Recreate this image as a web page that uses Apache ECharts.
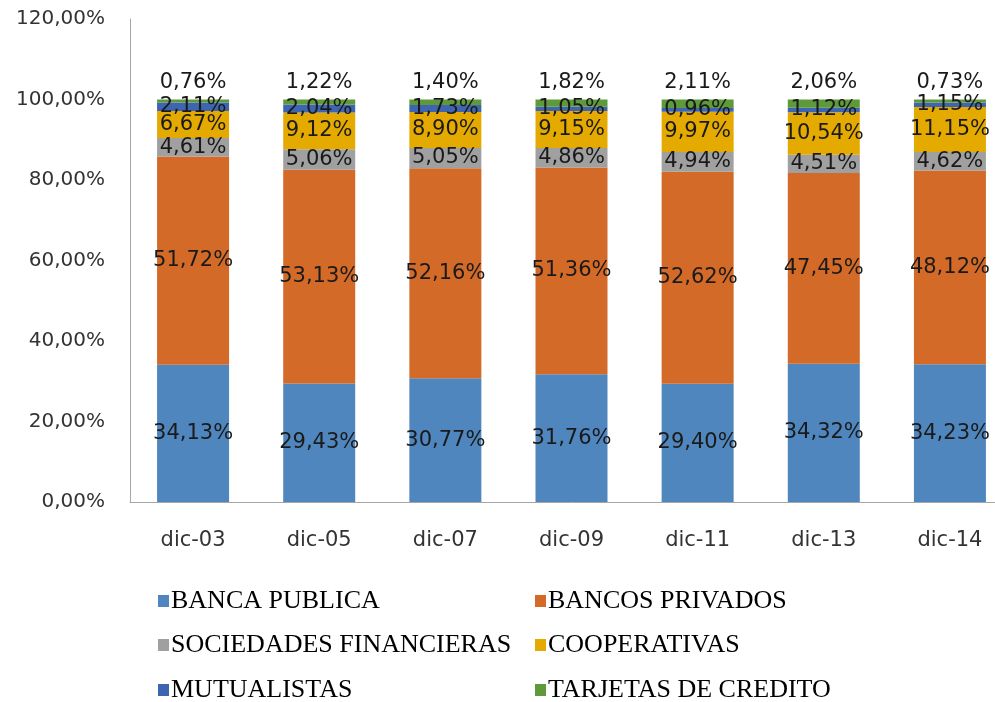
<!DOCTYPE html>
<html><head><meta charset="utf-8">
<script src="https://cdn.jsdelivr.net/npm/echarts@6/dist/echarts.min.js"></script>
<style>html,body{margin:0;padding:0;background:#fff;overflow:hidden}#c{width:1013px;height:702px}</style>
</head><body><div id="c"></div>
<script>
const categories = ['dic-03','dic-05','dic-07','dic-09','dic-11','dic-13','dic-14'];
const bancaPublica = [34.13,29.43,30.77,31.76,29.40,34.32,34.23];
const bancosPrivados = [51.72,53.13,52.16,51.36,52.62,47.45,48.12];
const sociedadesFinancieras = [4.61,5.06,5.05,4.86,4.94,4.51,4.62];
const cooperativas = [6.67,9.12,8.90,9.15,9.97,10.54,11.15];
const mutualistas = [2.11,2.04,1.73,1.05,0.96,1.12,1.15];
const tarjetasCredito = [0.76,1.22,1.40,1.82,2.11,2.06,0.73];
const seriesNames = ['BANCA PUBLICA','BANCOS PRIVADOS','SOCIEDADES FINANCIERAS','COOPERATIVAS','MUTUALISTAS','TARJETAS DE CREDITO'];
const seriesData = [bancaPublica,bancosPrivados,sociedadesFinancieras,cooperativas,mutualistas,tarjetasCredito];
const colors = ['#4F86BE','#D36A28','#A0A0A0','#E5AA00','#3E65B2','#5E9A3A'];

const fmt = v => v.toFixed(2).replace('.', ',') + '%';
const labelFont = '"DejaVu Sans", sans-serif';

const chart = echarts.init(document.getElementById('c'));
const series = seriesNames.map((n,i)=>({
  name:n, type:'bar', stack:'total', barWidth:72,
  itemStyle:{color:colors[i]},
  label:{show:true, position: i===5?'top':'inside', color:'#1a1a1a', fontSize:21, fontFamily:labelFont,
    distance: 6,
    formatter:p=>fmt(p.value)},
  data: seriesData[i]
}));
const legendPos = [[153,583],[530,583],[153,627],[530,627],[153,672],[530,672]];
const legends = seriesNames.map((n,i)=>({
  data:[n], left:legendPos[i][0], top:legendPos[i][1], itemWidth:11, itemHeight:12, itemGap:0,
  icon:'rect', selectedMode:false,
  textStyle:{fontFamily:'"Liberation Serif","Times New Roman",serif', fontSize:26, color:'#000', padding:[0,0,0,-3]}
}));
chart.setOption({
  animation:false,
  color:colors,
  grid:{left:130, right:0, top:19, bottom:200, containLabel:false},
  legend:legends,
  xAxis:{type:'category', data:categories,
    axisLine:{lineStyle:{color:'#A6A6A6'}}, axisTick:{show:false},
    axisLabel:{fontSize:21, color:'#333', fontFamily:labelFont, margin:28}},
  yAxis:{type:'value', min:0, max:120, interval:20,
    axisLine:{show:true, lineStyle:{color:'#A6A6A6'}}, axisTick:{show:false},
    splitLine:{show:false},
    axisLabel:{fontSize:20, color:'#333', fontFamily:labelFont, margin:25,
      formatter:v=>v.toFixed(2).replace('.',',')+'%'}},
  series:series
});
</script></body></html>
